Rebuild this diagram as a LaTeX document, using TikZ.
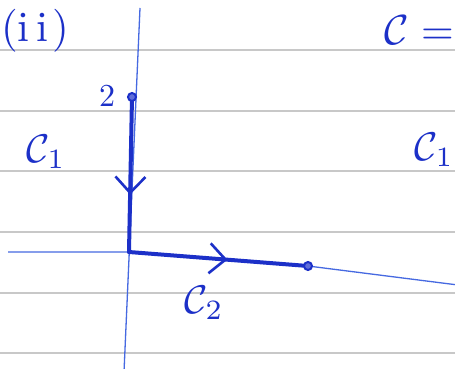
\documentclass[tikz,border=0pt]{standalone}
\usetikzlibrary{arrows.meta,decorations.markings}
\definecolor{ink}{RGB}{28,48,200}
\definecolor{thinink}{RGB}{70,105,225}
\definecolor{rule}{RGB}{200,200,200}
\begin{document}
\begin{tikzpicture}[x=1pt,y=-1pt,
  ruleline/.style={draw=rule,line width=1.8pt},
  axisline/.style={draw=thinink,line width=1.3pt},
  pathline/.style={draw=ink,line width=4pt,line cap=round,line join=round},
  dotmark/.style={circle,draw=ink,fill=ink!70,line width=2pt,inner sep=0pt,minimum size=8pt},
  lbl/.style={text=ink,inner sep=0pt},
  midarrow/.style={postaction={decorate,decoration={markings,
     mark=at position #1 with {\arrow[ink,line width=2.6pt]{Straight Barb[length=16pt,width=30pt]}}}}}
]
\useasboundingbox (0,0) rectangle (455,369);
\clip (0,0) rectangle (455,369);
\fill[white] (0,0) rectangle (455,369);
% ruled paper
\foreach \yy in {50,111,171,232,293,353} \draw[ruleline] (0,\yy) -- (455,\yy);
% coordinates
\coordinate (top) at (140,8);
\coordinate (bot) at (124,372);
\coordinate (left) at (8,252);
\coordinate (O) at (129,252);
\coordinate (B) at (308,266);
\coordinate (right) at (458,285);
\coordinate (A) at (132,97);
% axes
\draw[axisline] (top) -- (bot);
\draw[axisline] (left) -- (O) -- (B) -- (right);
% contour pieces
\draw[pathline,midarrow=0.63] (A) -- (O);
\draw[pathline,midarrow=0.55] (O) -- (B);
\node[dotmark] (Adot) at (A) {};
\node[dotmark] (Bdot) at (B) {};
% labels
\node[lbl] (two) at (107,96) {\scalebox{3.2}{2}};
\node[lbl] (c1) at (46,152) {\scalebox{4}{$\mathcal{C}_{1}$}};
\node[lbl] (c2) at (204,303) {\scalebox{4}{$\mathcal{C}_{2}$}};
\node[lbl,anchor=west] (part) at (1,31) {\scalebox{4.3}{(i\hspace{1.5pt}i\hspace{1pt})}};
\node[lbl,anchor=east] (ceq) at (454,30) {\scalebox{4.2}{$\mathcal{C}=$}};
\node[lbl,anchor=east] (cr) at (454,150) {\scalebox{4}{$\mathcal{C}_{1}$}};
\end{tikzpicture}
\end{document}
